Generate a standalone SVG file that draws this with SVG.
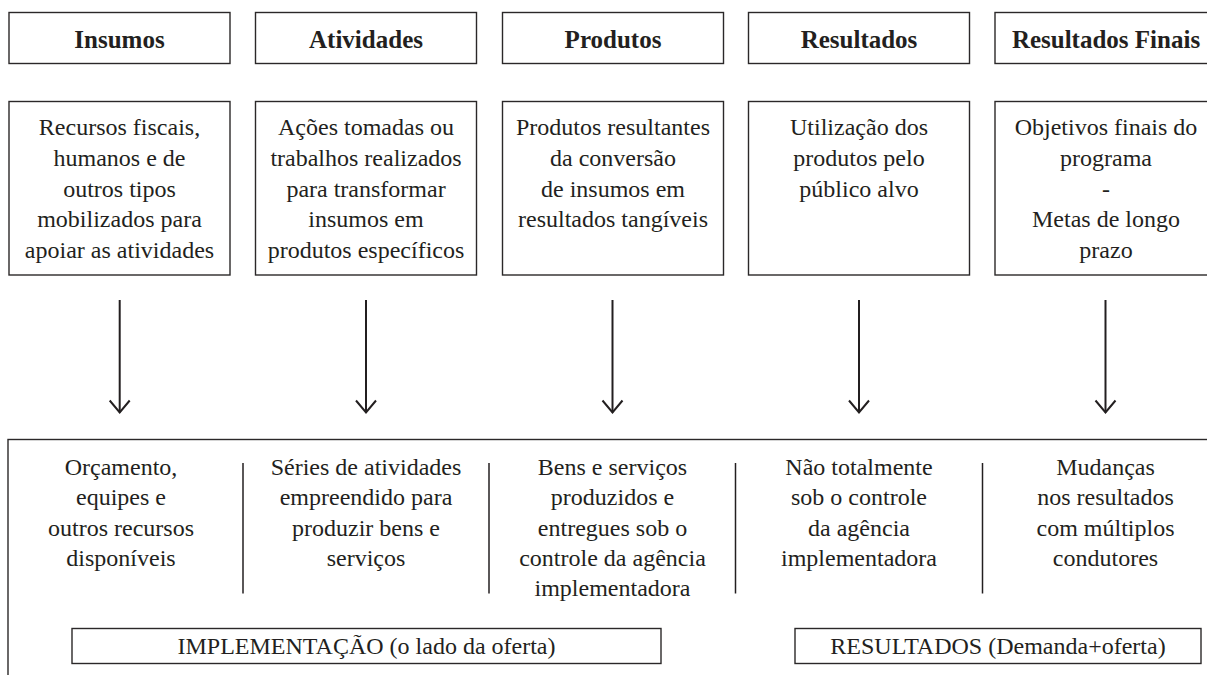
<svg xmlns="http://www.w3.org/2000/svg" width="1207" height="675" viewBox="0 0 1207 675">
<style>
.box{fill:#fff;stroke:#2b2829;stroke-width:1.4}
.hd{font-family:"Liberation Serif",serif;font-weight:bold;font-size:25px;fill:#231f20;text-anchor:middle}
.tx{font-family:"Liberation Serif",serif;font-size:24px;fill:#231f20;text-anchor:middle}
.arr{stroke:#231f20;stroke-width:2;fill:none}
.div{stroke:#231f20;stroke-width:1.5}
</style>
<defs>
<marker id="ah" markerUnits="userSpaceOnUse" markerWidth="30" markerHeight="30" refX="0" refY="0" orient="auto" overflow="visible">
<path d="M-12,-10 L0,0 L-12,10" fill="none" stroke="#231f20" stroke-width="2"/>
</marker>
</defs>
<rect width="1207" height="675" fill="#fff"/>

<g id="h-insumos"><rect class="box" x="9" y="12.5" width="221" height="51"/><text class="hd" x="119.5" y="48">Insumos</text></g>
<g id="h-atividades"><rect class="box" x="255.5" y="12.5" width="221" height="51"/><text class="hd" x="366" y="48">Atividades</text></g>
<g id="h-produtos"><rect class="box" x="502.5" y="12.5" width="221" height="51"/><text class="hd" x="613" y="48">Produtos</text></g>
<g id="h-resultados"><rect class="box" x="748.5" y="12.5" width="221" height="51"/><text class="hd" x="859" y="48">Resultados</text></g>
<g id="h-finais"><rect class="box" x="995" y="12.5" width="230" height="51"/><text class="hd" x="1106" y="48">Resultados Finais</text></g>

<g id="d-insumos"><rect class="box" x="9" y="101.5" width="221" height="173.5"/>
<text class="tx" x="119.5"><tspan x="119.5" y="135">Recursos fiscais,</tspan><tspan x="119.5" y="165.75">humanos e de</tspan><tspan x="119.5" y="196.5">outros tipos</tspan><tspan x="119.5" y="227.25">mobilizados para</tspan><tspan x="119.5" y="258">apoiar as atividades</tspan></text></g>
<g id="d-atividades"><rect class="box" x="255.5" y="101.5" width="221" height="173.5"/>
<text class="tx" x="366"><tspan x="366" y="135">Ações tomadas ou</tspan><tspan x="366" y="165.75">trabalhos realizados</tspan><tspan x="366" y="196.5">para transformar</tspan><tspan x="366" y="227.25">insumos em</tspan><tspan x="366" y="258">produtos específicos</tspan></text></g>
<g id="d-produtos"><rect class="box" x="502.5" y="101.5" width="221" height="173.5"/>
<text class="tx" x="613"><tspan x="613" y="135">Produtos resultantes</tspan><tspan x="613" y="165.75">da conversão</tspan><tspan x="613" y="196.5">de insumos em</tspan><tspan x="613" y="227.25">resultados tangíveis</tspan></text></g>
<g id="d-resultados"><rect class="box" x="748.5" y="101.5" width="221" height="173.5"/>
<text class="tx" x="859"><tspan x="859" y="135">Utilização dos</tspan><tspan x="859" y="165.75">produtos pelo</tspan><tspan x="859" y="196.5">público alvo</tspan></text></g>
<g id="d-finais"><rect class="box" x="995" y="101.5" width="230" height="173.5"/>
<text class="tx" x="1106"><tspan x="1106" y="135">Objetivos finais do</tspan><tspan x="1106" y="165.75">programa</tspan><tspan x="1106" y="196.5">-</tspan><tspan x="1106" y="227.25">Metas de longo</tspan><tspan x="1106" y="258">prazo</tspan></text></g>

<g id="connectors">
<line class="arr" x1="119.7" y1="300" x2="119.7" y2="412.5" marker-end="url(#ah)"/>
<line class="arr" x1="366" y1="300" x2="366" y2="412.5" marker-end="url(#ah)"/>
<line class="arr" x1="612.5" y1="300" x2="612.5" y2="412.5" marker-end="url(#ah)"/>
<line class="arr" x1="859" y1="300" x2="859" y2="412.5" marker-end="url(#ah)"/>
<line class="arr" x1="1105.5" y1="300" x2="1105.5" y2="412.5" marker-end="url(#ah)"/>
</g>

<g id="bottom">
<rect class="box" x="8" y="439.5" width="1220" height="260"/>
<line class="div" x1="243" y1="463" x2="243" y2="593.5"/>
<line class="div" x1="489" y1="463" x2="489" y2="593.5"/>
<line class="div" x1="735.5" y1="463" x2="735.5" y2="593.5"/>
<line class="div" x1="982.5" y1="463" x2="982.5" y2="593.5"/>
<text class="tx"><tspan x="121" y="475">Orçamento,</tspan><tspan x="121" y="505.3">equipes e</tspan><tspan x="121" y="535.6">outros recursos</tspan><tspan x="121" y="566">disponíveis</tspan></text>
<text class="tx"><tspan x="366" y="475">Séries de atividades</tspan><tspan x="366" y="505.3">empreendido para</tspan><tspan x="366" y="535.6">produzir bens e</tspan><tspan x="366" y="566">serviços</tspan></text>
<text class="tx"><tspan x="612.5" y="475">Bens e serviços</tspan><tspan x="612.5" y="505.3">produzidos e</tspan><tspan x="612.5" y="535.6">entregues sob o</tspan><tspan x="612.5" y="566">controle da agência</tspan><tspan x="612.5" y="596.3">implementadora</tspan></text>
<text class="tx"><tspan x="859" y="475">Não totalmente</tspan><tspan x="859" y="505.3">sob o controle</tspan><tspan x="859" y="535.6">da agência</tspan><tspan x="859" y="566">implementadora</tspan></text>
<text class="tx"><tspan x="1105.5" y="475">Mudanças</tspan><tspan x="1105.5" y="505.3">nos resultados</tspan><tspan x="1105.5" y="535.6">com múltiplos</tspan><tspan x="1105.5" y="566">condutores</tspan></text>
</g>

<g id="impl"><rect class="box" x="72" y="628.5" width="589" height="35"/><text class="tx" x="366.5" y="654">IMPLEMENTAÇÃO (o lado da oferta)</text></g>
<g id="res"><rect class="box" x="795" y="628.5" width="406" height="35"/><text class="tx" x="998" y="654">RESULTADOS (Demanda+oferta)</text></g>
</svg>
